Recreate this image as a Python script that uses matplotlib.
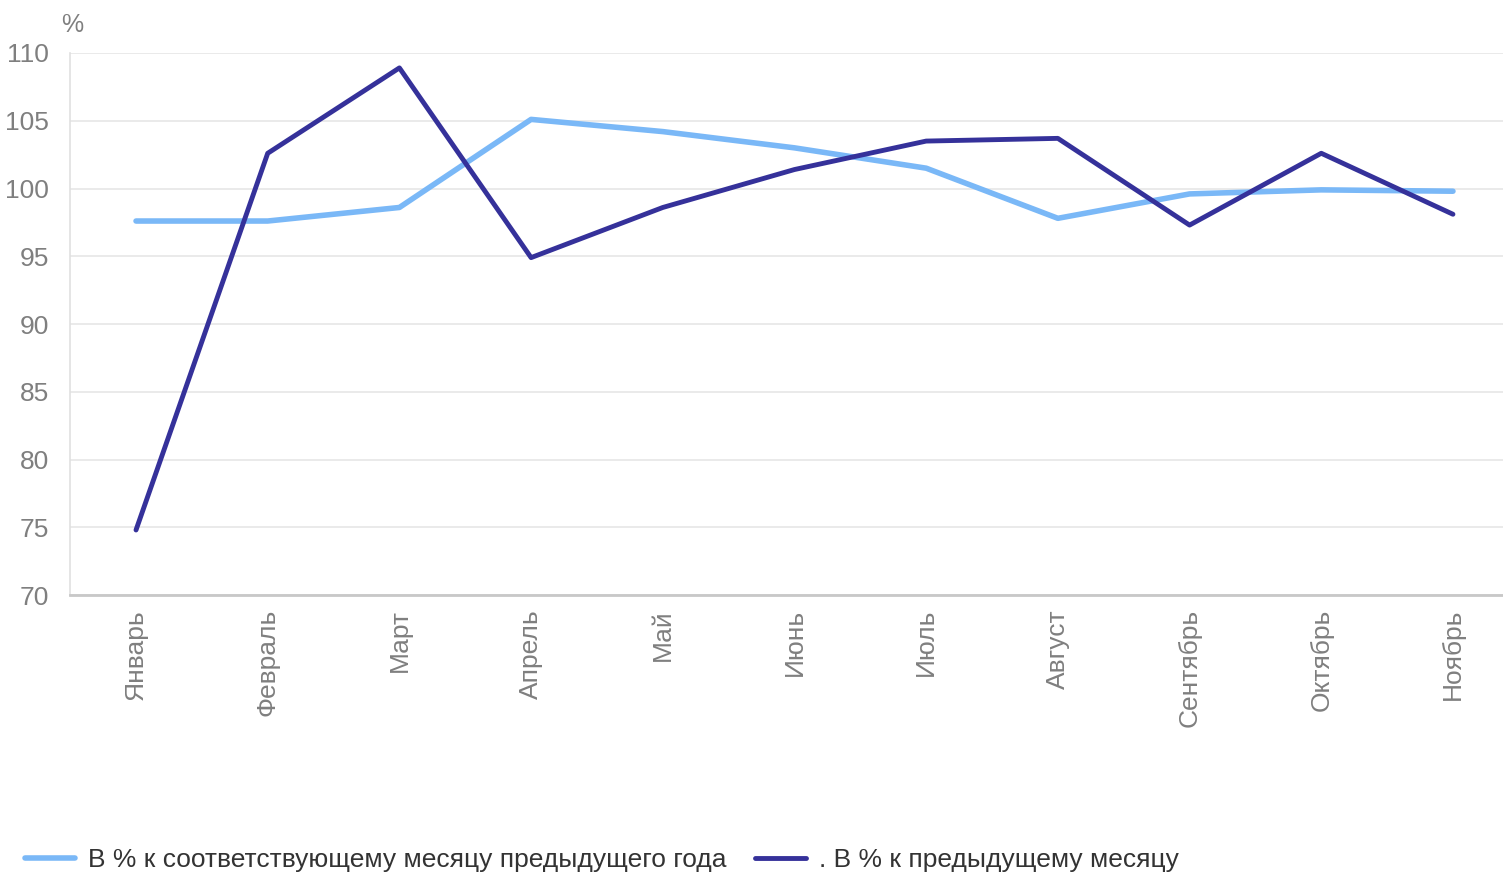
import matplotlib
matplotlib.use("Agg")
import matplotlib.pyplot as plt

plt.rcParams['font.family'] = ['Liberation Sans', 'DejaVu Sans']

months = ["Январь", "Февраль", "Март", "Апрель", "Май", "Июнь", "Июль",
          "Август", "Сентябрь", "Октябрь", "Ноябрь"]
yoy = [97.6, 97.6, 98.6, 105.1, 104.2, 103.0, 101.5, 97.8, 99.6, 99.9, 99.8]
mom = [74.8, 102.6, 108.9, 94.9, 98.6, 101.4, 103.5, 103.7, 97.3, 102.6, 98.1]
yticks = [70, 75, 80, 85, 90, 95, 100, 105, 110]
label_yoy = "В % к соответствующему месяцу предыдущего года"
label_mom = ". В % к предыдущему месяцу"

fig = plt.figure(figsize=(15.03, 8.73), dpi=100)
ax = fig.add_axes([0.0466, 0.3184, 0.9534, 0.6209])

x = range(len(months))
l1, = ax.plot(x, yoy, color="#7ab8f7", lw=4, solid_capstyle="round", solid_joinstyle="round", label=label_yoy)
l2, = ax.plot(x, mom, color="#35319a", lw=3.5, solid_capstyle="round", solid_joinstyle="round", label=label_mom)

ax.set_xlim(-0.501, 10.38)
ax.set_ylim(70, 110)
ax.set_yticks(yticks)
ax.set_yticklabels([str(v) for v in yticks])
ax.set_xticks(list(x))
ax.set_xticklabels(months, rotation=90)
ax.grid(axis="y", color="#e6e6e6", lw=1.2)
ax.set_axisbelow(True)
for s in ["top", "right"]:
    ax.spines[s].set_visible(False)
ax.spines["left"].set_color("#e0e0e0")
ax.spines["left"].set_linewidth(1.2)
ax.spines["bottom"].set_color("#c8c8c8")
ax.spines["bottom"].set_linewidth(2)
ax.tick_params(axis="both", length=0, labelsize=19, colors="#7f7f7f")
ax.tick_params(axis="y", pad=15)
ax.tick_params(axis="x", pad=10)

fig.text(0.0479, 0.985, "%", fontsize=18, color="#7f7f7f", va="top", ha="center")

leg = fig.legend(handles=[l1, l2], loc="lower left", bbox_to_anchor=(0.0005, -0.026),
                 ncol=2, frameon=False, fontsize=19, handlelength=1.9,
                 handletextpad=0.5, columnspacing=1.1, labelcolor="#333333")

fig.savefig("out.png", dpi=100, facecolor="white")
